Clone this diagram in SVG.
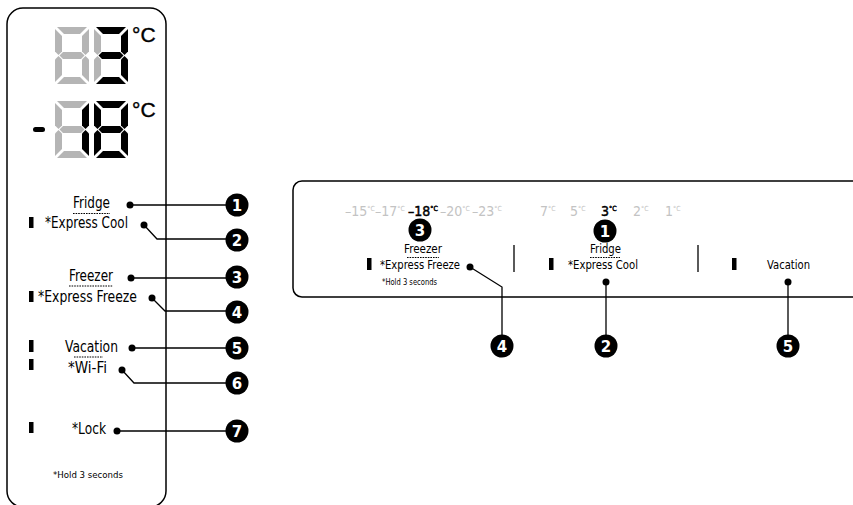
<svg xmlns="http://www.w3.org/2000/svg" xmlns:xlink="http://www.w3.org/1999/xlink" width="853" height="505" viewBox="0 0 853 505">
<style>
.panel{fill:#fff;stroke:#000;stroke-width:1.5}
.on{fill:#000}
.off{fill:#b5b5b5}
.lbl{font-family:"DejaVu Sans Condensed","DejaVu Sans",sans-serif;font-stretch:condensed;font-size:15px;fill:#000}
.sm{font-family:"DejaVu Sans Condensed","DejaVu Sans",sans-serif;font-stretch:condensed;font-size:9.5px;fill:#000}
.deg{font-family:"Liberation Sans",Arial,sans-serif;font-size:21px;fill:#000;stroke:#000;stroke-width:0.4}
.tmp{font-family:"DejaVu Sans Condensed","DejaVu Sans",sans-serif;font-stretch:condensed;font-size:14px;fill:#c3c3c3}
.tmp.act{fill:#000;stroke:#000;stroke-width:0.45}
.sup{font-size:7px}
.num{fill:#000}
.numt{font-family:"DejaVu Sans","Liberation Sans",sans-serif;font-weight:bold;font-size:15px;fill:#fff;text-anchor:middle}
.bar{fill:#000}
.dot{fill:#000}
.conn{fill:none;stroke:#000;stroke-width:1.3}
.ul{stroke:#000;stroke-width:1;stroke-dasharray:1.6 1}
.sep{stroke:#000;stroke-width:1.3}
</style>
<defs>
<polygon id="sa" points="2,0 32,0 25,7 9,7"/>
<polygon id="sb" points="34,2 27,9 27,24.5 30.5,28 34,24.5"/>
<polygon id="sc" points="34,55 27,48 27,32.5 30.5,29 34,32.5"/>
<polygon id="sd" points="2,57 32,57 25,50 9,50"/>
<polygon id="se" points="0,55 7,48 7,32.5 3.5,29 0,32.5"/>
<polygon id="sf" points="0,2 7,9 7,24.5 3.5,28 0,24.5"/>
<polygon id="sg" points="4.5,28.5 8,25 26,25 29.5,28.5 26,32 8,32"/>
</defs>

<g id="left-panel">
<rect class="panel" x="7" y="8" width="159" height="499" rx="16"/>
</g>

<g id="fridge-display">
<g transform="translate(55,27)">
<use xlink:href="#sa" class="off"/><use xlink:href="#sb" class="off"/><use xlink:href="#sc" class="off"/><use xlink:href="#sd" class="off"/><use xlink:href="#se" class="off"/><use xlink:href="#sf" class="off"/><use xlink:href="#sg" class="off"/>
</g>
<g transform="translate(94,27)">
<use xlink:href="#sa" class="on"/><use xlink:href="#sb" class="on"/><use xlink:href="#sc" class="on"/><use xlink:href="#sd" class="on"/><use xlink:href="#se" class="off"/><use xlink:href="#sf" class="off"/><use xlink:href="#sg" class="on"/>
</g>
<text class="deg" x="132" y="42">°C</text>
</g>

<g id="freezer-display">
<rect x="33" y="127" width="12" height="5" rx="2.5" class="on"/>
<g transform="translate(55,101)">
<use xlink:href="#sa" class="off"/><use xlink:href="#sb" class="on"/><use xlink:href="#sc" class="on"/><use xlink:href="#sd" class="off"/><use xlink:href="#se" class="off"/><use xlink:href="#sf" class="off"/><use xlink:href="#sg" class="off"/>
</g>
<g transform="translate(94,101)">
<use xlink:href="#sa" class="on"/><use xlink:href="#sb" class="on"/><use xlink:href="#sc" class="on"/><use xlink:href="#sd" class="on"/><use xlink:href="#se" class="on"/><use xlink:href="#sf" class="on"/><use xlink:href="#sg" class="on"/>
</g>
<text class="deg" x="132" y="117">°C</text>
</g>

<g id="left-labels">
<text class="lbl" x="73" y="208" textLength="37" lengthAdjust="spacingAndGlyphs">Fridge</text>
<line class="ul" x1="73" y1="213.5" x2="110" y2="213.5"/>
<rect class="bar" x="29" y="217" width="4.5" height="11"/>
<text class="lbl" x="45" y="228" textLength="83" lengthAdjust="spacingAndGlyphs">*Express Cool</text>
<text class="lbl" x="69" y="281" textLength="44" lengthAdjust="spacingAndGlyphs">Freezer</text>
<line class="ul" x1="69" y1="286" x2="113" y2="286"/>
<rect class="bar" x="29" y="291" width="4.5" height="11"/>
<text class="lbl" x="38" y="302" textLength="99" lengthAdjust="spacingAndGlyphs">*Express Freeze</text>
<rect class="bar" x="29" y="340" width="4.5" height="12"/>
<text class="lbl" x="65" y="352" textLength="53" lengthAdjust="spacingAndGlyphs">Vacation</text>
<line class="ul" x1="74" y1="357" x2="103" y2="357"/>
<rect class="bar" x="29" y="359" width="4.5" height="11"/>
<text class="lbl" x="68" y="373" textLength="39" lengthAdjust="spacingAndGlyphs">*Wi-Fi</text>
<rect class="bar" x="29" y="422" width="4.5" height="11"/>
<text class="lbl" x="72" y="434" textLength="34" lengthAdjust="spacingAndGlyphs">*Lock</text>
<text class="sm" x="53" y="478" textLength="70" lengthAdjust="spacingAndGlyphs">*Hold 3 seconds</text>
</g>

<g id="right-panel">
<rect class="panel" x="293" y="181" width="600" height="116" rx="9"/>
<line class="sep" x1="514" y1="245" x2="514" y2="272"/>
<line class="sep" x1="698" y1="245" x2="698" y2="272"/>
</g>

<g id="freezer-temps">
<text class="tmp" x="345" y="216">–15<tspan class="sup" dy="-5">°C</tspan></text>
<text class="tmp" x="375" y="216">–17<tspan class="sup" dy="-5">°C</tspan></text>
<text class="tmp act" x="408" y="216">–18<tspan class="sup" dy="-5">°C</tspan></text>
<text class="tmp" x="440" y="216">–20<tspan class="sup" dy="-5">°C</tspan></text>
<text class="tmp" x="472" y="216">–23<tspan class="sup" dy="-5">°C</tspan></text>
</g>

<g id="fridge-temps">
<text class="tmp" x="540" y="216">7<tspan class="sup" dy="-5">°C</tspan></text>
<text class="tmp" x="570" y="216">5<tspan class="sup" dy="-5">°C</tspan></text>
<text class="tmp act" x="601" y="216">3<tspan class="sup" dy="-5">°C</tspan></text>
<text class="tmp" x="633" y="216">2<tspan class="sup" dy="-5">°C</tspan></text>
<text class="tmp" x="665" y="216">1<tspan class="sup" dy="-5">°C</tspan></text>
</g>

<g id="right-labels">
<text class="lbl" x="404" y="253" style="font-size:13px" textLength="38" lengthAdjust="spacingAndGlyphs">Freezer</text>
<line class="ul" x1="407" y1="257.5" x2="439" y2="257.5"/>
<rect class="bar" x="367" y="258" width="4.5" height="12"/>
<text class="lbl" x="380" y="269" style="font-size:13px" textLength="80" lengthAdjust="spacingAndGlyphs">*Express Freeze</text>
<text class="sm" x="382" y="285" style="font-size:8px" textLength="55" lengthAdjust="spacingAndGlyphs">*Hold 3 seconds</text>
<text class="lbl" x="590" y="253" style="font-size:13px" textLength="31" lengthAdjust="spacingAndGlyphs">Fridge</text>
<line class="ul" x1="590" y1="257.5" x2="620" y2="257.5"/>
<rect class="bar" x="549" y="258" width="4.5" height="12"/>
<text class="lbl" x="568" y="269" style="font-size:13px" textLength="70" lengthAdjust="spacingAndGlyphs">*Express Cool</text>
<rect class="bar" x="732" y="258" width="4.5" height="12"/>
<text class="lbl" x="767" y="269" style="font-size:13px" textLength="43" lengthAdjust="spacingAndGlyphs">Vacation</text>
</g>

<g id="connectors">
<polyline class="conn" points="130,205 237,205"/>
<polyline class="conn" points="144,225 157,239 237,239"/>
<polyline class="conn" points="131,278 237,278"/>
<polyline class="conn" points="152,298 165,311 237,311"/>
<polyline class="conn" points="132,348 237,348"/>
<polyline class="conn" points="122,370 134,383 237,383"/>
<polyline class="conn" points="117,431 237,431"/>
<polyline class="conn" points="470,267 502,287 502,345"/>
<polyline class="conn" points="606,282 606,345"/>
<polyline class="conn" points="788,282 788,345"/>
<circle class="dot" cx="130" cy="205" r="3.5"/>
<circle class="dot" cx="144" cy="225" r="3.5"/>
<circle class="dot" cx="131" cy="278" r="3.5"/>
<circle class="dot" cx="152" cy="298" r="3.5"/>
<circle class="dot" cx="132" cy="348" r="3.5"/>
<circle class="dot" cx="122" cy="370" r="3.5"/>
<circle class="dot" cx="117" cy="431" r="3.5"/>
<circle class="dot" cx="470" cy="267" r="3.5"/>
<circle class="dot" cx="606" cy="282" r="3.5"/>
<circle class="dot" cx="788" cy="282" r="3.5"/>
</g>

<g id="callout-1"><circle class="num" cx="237" cy="205" r="11.5"/><text class="numt" x="237" y="210.5">1</text></g>
<g id="callout-2"><circle class="num" cx="237" cy="240" r="11.5"/><text class="numt" x="237" y="245.5">2</text></g>
<g id="callout-3"><circle class="num" cx="237" cy="277" r="11.5"/><text class="numt" x="237" y="282.5">3</text></g>
<g id="callout-4"><circle class="num" cx="237" cy="312" r="11.5"/><text class="numt" x="237" y="317.5">4</text></g>
<g id="callout-5"><circle class="num" cx="237" cy="348" r="11.5"/><text class="numt" x="237" y="353.5">5</text></g>
<g id="callout-6"><circle class="num" cx="237" cy="383" r="11.5"/><text class="numt" x="237" y="388.5">6</text></g>
<g id="callout-7"><circle class="num" cx="237" cy="431" r="11.5"/><text class="numt" x="237" y="436.5">7</text></g>
<g id="callout-r3"><circle class="num" cx="420" cy="230" r="11.5"/><text class="numt" x="420" y="235.5">3</text></g>
<g id="callout-r1"><circle class="num" cx="605" cy="231" r="11.5"/><text class="numt" x="605" y="236.5">1</text></g>
<g id="callout-r4"><circle class="num" cx="502" cy="346" r="11.5"/><text class="numt" x="502" y="351.5">4</text></g>
<g id="callout-r2"><circle class="num" cx="606" cy="346" r="11.5"/><text class="numt" x="606" y="351.5">2</text></g>
<g id="callout-r5"><circle class="num" cx="788" cy="346" r="11.5"/><text class="numt" x="788" y="351.5">5</text></g>
</svg>
